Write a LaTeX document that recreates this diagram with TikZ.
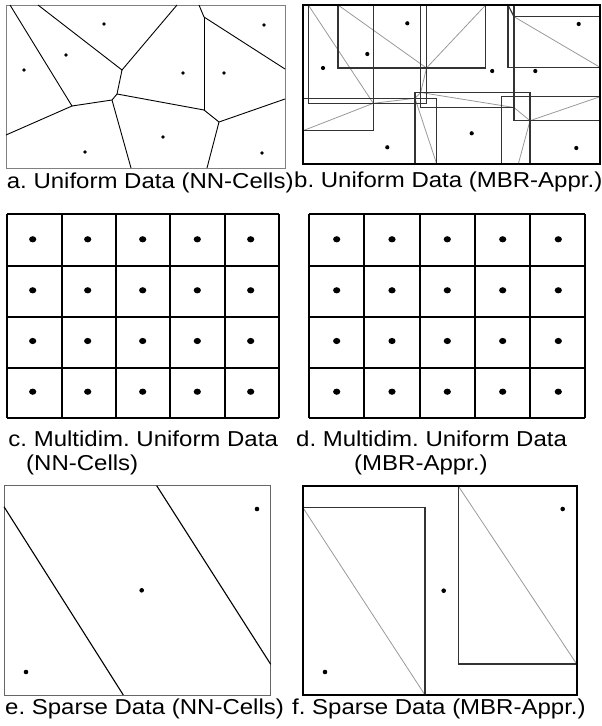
\documentclass[tikz,border=0pt]{standalone}
\usepackage{fontspec}
\setmainfont{Liberation Sans}
\frenchspacing
\begin{document}
\begin{tikzpicture}[x=1pt,y=-1pt,
  lbl/.style={anchor=base west,inner sep=0pt,font=\fontsize{24}{24}\selectfont\frenchspacing},
  frame/.style={draw=black!50,line width=0.9pt},
  edge/.style={draw=black,line width=0.9pt},
  mbr/.style={draw=black!80,line width=1.2pt},
  diag/.style={draw=black!40,line width=0.8pt},
  bold/.style={draw=black,line width=1.6pt},
  gridline/.style={draw=black,line width=1.8pt},
  pt/.style={fill=black}]
\useasboundingbox (0,0) rectangle (602,726);
% ---------------- panel a ----------------
\draw[frame] (6,5) rectangle (285,168);
\coordinate (aV1) at (10,5);   \coordinate (aV2) at (38,5);
\coordinate (aV3) at (177,5);  \coordinate (aV4) at (199,5);
\coordinate (aA) at (72,106);  \coordinate (aB) at (122,70);
\coordinate (aC) at (117,94);  \coordinate (aD) at (112,100);
\coordinate (aE) at (204,17);  \coordinate (aF) at (204,110);
\coordinate (aG) at (219,122); \coordinate (aH) at (285,69);
\coordinate (aI) at (285,99);  \coordinate (aJ) at (131,168);
\coordinate (aK) at (207,168); \coordinate (aL) at (6,135);
\draw[edge] (aV1)--(aA)--(aL);
\draw[edge] (aV2)--(aB)--(aV3);
\draw[edge] (aB)--(aC)--(aD)--(aA);
\draw[edge] (aD)--(aJ);
\draw[edge] (aC)--(aF)--(aG)--(aI);
\draw[edge] (aG)--(aK);
\draw[edge] (aV4)--(aE)--(aH);
\draw[edge] (aE)--(aF);
\foreach \p in {(104,24),(264,25),(66,55),(24,70),(183,73),(224,73),(163,137),(85,152),(262,153)}
  \fill[pt] \p circle (1.8);
\node[lbl] (la) at (6.7,188) {\scalebox{1}[0.9]{a. Uniform Data (NN-Cells)}};
% ---------------- panel b ----------------
\coordinate (bV1) at (308.3,5);   \coordinate (bV2) at (338,5);
\coordinate (bV3) at (485.7,5);   \coordinate (bV4) at (508,5);
\coordinate (bA) at (373.3,103.3); \coordinate (bB) at (426.5,68);
\coordinate (bC) at (420.7,92.5);  \coordinate (bD) at (415,98.3);
\coordinate (bE) at (514,16.7);    \coordinate (bF) at (514,107.5);
\coordinate (bG) at (530,120.7);   \coordinate (bH) at (600,67.3);
\coordinate (bI) at (600,96.7);    \coordinate (bJ) at (436.7,164);
\coordinate (bK) at (518.3,164);   \coordinate (bL) at (303,130.7);
\draw[diag] (bV1)--(bA)--(bL);
\draw[diag] (bV2)--(bB)--(bV3);
\draw[diag] (bB)--(bC)--(bD)--(bA);
\draw[diag] (bD)--(bJ);
\draw[diag] (bC)--(bF)--(bG)--(bI);
\draw[diag] (bG)--(bK);
\draw[diag] (bE)--(bH);
\draw[mbr] (bV4)--(bE);
\draw[mbr] (303,5) rectangle (373.3,130.7);
\draw[mbr] (308.3,5) rectangle (426.7,103.3);
\draw[mbr] (338,5) rectangle (485.7,68);
\draw[mbr] (420.7,5) rectangle (514,107.5);
\draw[mbr] (514,16.7) rectangle (600,120.7);
\draw[mbr] (508,5) rectangle (600,67.3);
\draw[mbr] (303,98.3) rectangle (436.7,164);
\draw[mbr] (415,92.5) rectangle (530,164);
\draw[mbr] (501.7,96.7) rectangle (600,164);
\draw[bold] (303,5) rectangle (600,164);
\foreach \p in {(407.3,23.3),(578.7,24),(367.3,54),(323,68),(492.2,71),(535.3,71),(471.7,133.3),(387.3,147.3),(576.3,148)}
  \fill[pt] \p circle (2.1);
\node[lbl] (lb) at (294,187) {\scalebox{1}[0.9]{b. Uniform Data (MBR-Appr.)}};
% ---------------- panel c ----------------
\foreach \x in {7.3,61.7,116,170.3,224.7,278.7}
  \draw[gridline] (\x,214)--(\x,417.7);
\foreach \y in {214,265.7,317,367.7,417.7}
  \draw[gridline] (7.3,\y)--(278.7,\y);
\foreach \x in {32.7,87.7,142.7,197.3,250.7}
  \foreach \y in {239.3,290.3,341,391.7}
    \fill[pt] (\x,\y) ellipse (3.6 and 3.1);
\node[lbl] (lc1) at (8.3,446) {\scalebox{1}[0.9]{c. Multidim. Uniform Data}};
\node[lbl] (lc2) at (26,470) {\scalebox{1}[0.9]{(NN-Cells)}};
% ---------------- panel d ----------------
\foreach \x in {309,364.3,420,475.3,530.3,585}
  \draw[gridline] (\x,214)--(\x,417.7);
\foreach \y in {214,266,317.3,368,417.7}
  \draw[gridline] (309,\y)--(585,\y);
\foreach \x in {336.7,392,447.3,502.7,558.3}
  \foreach \y in {239.3,290.3,341,391.7}
    \fill[pt] (\x,\y) ellipse (3.6 and 3.1);
\node[lbl] (ld1) at (296,446) {\scalebox{1}[0.9]{d. Multidim. Uniform Data}};
\node[lbl] (ld2) at (354,470) {\scalebox{1}[0.9]{(MBR-Appr.)}};
% ---------------- panel e ----------------
\draw[draw=black!60,line width=1pt] (4,485.7) rectangle (270.7,695);
\coordinate (eP) at (4,506.7);    \coordinate (eQ) at (123.3,695);
\coordinate (eR) at (156.7,485.7); \coordinate (eS) at (270.7,664.3);
\draw[edge,line width=1.1pt] (eP)--(eQ);
\draw[edge,line width=1.1pt] (eR)--(eS);
\foreach \p in {(257,509),(141.7,590.3),(26,672)}
  \fill[pt] \p circle (2.3);
\node[lbl] (le) at (5,714) {\scalebox{1}[0.9]{e. Sparse Data (NN-Cells)}};
% ---------------- panel f ----------------
\coordinate (fA1) at (302.7,507.3); \coordinate (fA2) at (425,695);
\coordinate (fB1) at (458.3,486);   \coordinate (fB2) at (576.7,664);
\draw[diag] (fA1)--(fA2);
\draw[diag] (fB1)--(fB2);
\draw[mbr] (fA1) rectangle (fA2);
\draw[mbr] (fB1) rectangle (fB2);
\draw[bold,line width=2pt] (302.7,485.7) rectangle (577.3,695);
\foreach \p in {(562.7,509),(443.7,590.7),(325,672)}
  \fill[pt] \p circle (2.3);
\node[lbl] (lf) at (292,714) {\scalebox{1}[0.9]{f. Sparse Data (MBR-Appr.)}};
\end{tikzpicture}
\end{document}
